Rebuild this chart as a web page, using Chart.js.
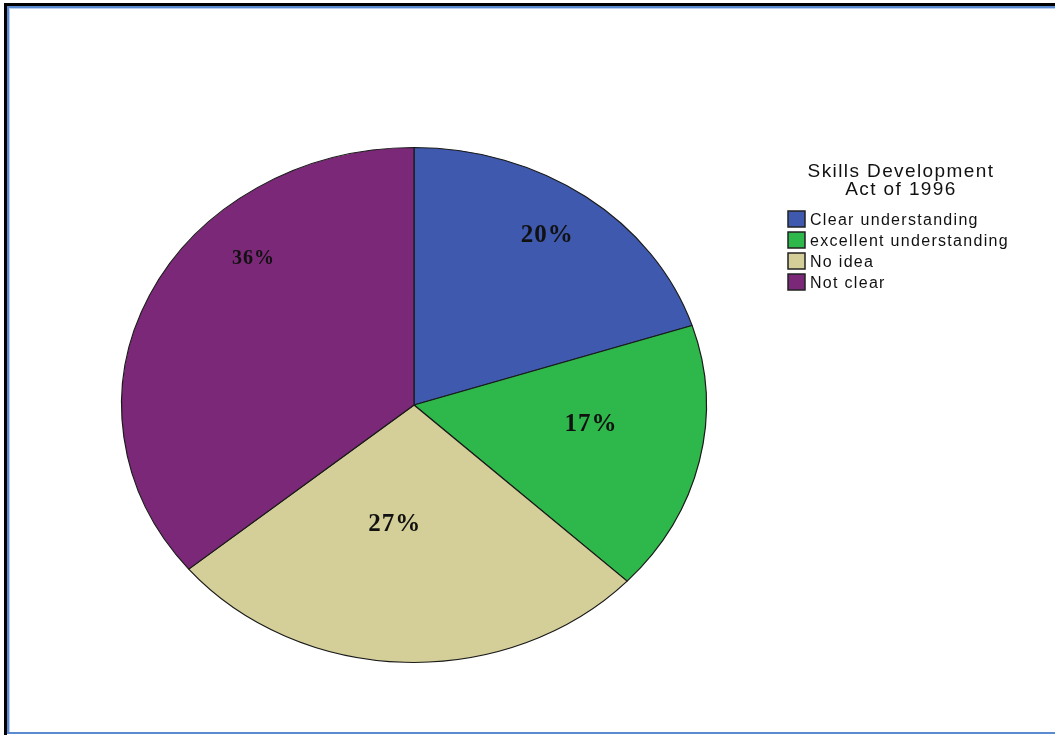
<!DOCTYPE html>
<html>
<head>
<meta charset="utf-8">
<script src="https://cdn.jsdelivr.net/npm/chart.js@4/dist/chart.umd.min.js"></script>
<style>
  html, body { margin: 0; padding: 0; background: #fff; }
  #wrap { position: relative; width: 1055px; height: 735px; overflow: hidden; }
  #chart { position: absolute; left: 0; top: 0; }
  /* window frame lines */
  .frame-outer { position: absolute; left: 4px; top: 3px; width: 1100px; height: 800px;
    border-left: 3px solid #000; border-top: 3px solid #000; }
  .frame-inner { position: absolute; left: 7px; top: 6px; width: 1100px; height: 724px;
    border: 2px solid #5a8ad0; border-right: none; box-shadow: inset 1px 1px 0 #b9d0f0; }
</style>
</head>
<body>
<div id="wrap">
  <canvas id="chart" width="1055" height="735"></canvas>
  <div class="frame-outer"></div>
  <div class="frame-inner"></div>
</div>
<script>
// 数据
const categories = ['Clear understanding', 'excellent understanding', 'No idea', 'Not clear'];
const percentages = [20, 17, 27, 36];
const sliceColors = ['#3e59ad', '#2eb74a', '#d4cf98', '#7b2878'];
const legendTitle = ['Skills Development', 'Act of 1996'];

// 椭圆的纵横比
const ELLIPSE_Y = 257.5 / 292.5;

// 标签位置微调 (半径比例, 角度偏移 deg, 字号)
const labelTweaks = [
  { f: 0.80, da: -1.3, size: 25 },
  { f: 0.61, da: -5.6, size: 25 },
  { f: 0.47, da: 6.2, size: 25 },
  { f: 0.79, da: 20.8, size: 20 }
];

// 把饼图压成椭圆
const ellipsePlugin = {
  id: 'ellipse',
  beforeDatasetsDraw(chart) {
    const arc = chart.getDatasetMeta(0).data[0];
    const ctx = chart.ctx;
    ctx.save();
    ctx.translate(arc.x, arc.y);
    ctx.scale(1, ELLIPSE_Y);
    ctx.translate(-arc.x, -arc.y);
  },
  afterDatasetsDraw(chart) {
    chart.ctx.restore();
  }
};

// 百分比标签
const sliceLabels = {
  id: 'sliceLabels',
  afterDraw(chart) {
    const ctx = chart.ctx;
    const meta = chart.getDatasetMeta(0);
    ctx.save();
    ctx.fillStyle = '#111';
    ctx.textAlign = 'center';
    ctx.textBaseline = 'middle';
    meta.data.forEach((arc, i) => {
      const t = labelTweaks[i];
      const mid = (arc.startAngle + arc.endAngle) / 2 + t.da * Math.PI / 180;
      const r = arc.outerRadius * t.f;
      const x = arc.x + r * Math.cos(mid);
      const y = arc.y + r * Math.sin(mid) * ELLIPSE_Y;
      ctx.font = `bold ${t.size}px "Liberation Serif", "Times New Roman", serif`;
      ctx.letterSpacing = '1px';
      ctx.fillText(percentages[i] + '%', x, y);
    });
    ctx.restore();
  }
};

// 右侧图例
const sideLegend = {
  id: 'sideLegend',
  afterDraw(chart) {
    const ctx = chart.ctx;
    ctx.save();
    ctx.fillStyle = '#111';
    ctx.textBaseline = 'alphabetic';
    ctx.textAlign = 'center';
    ctx.font = '19px "Liberation Sans", Arial, sans-serif';
    ctx.letterSpacing = '1.4px';
    legendTitle.forEach((line, i) => ctx.fillText(line, 901, 177 + i * 18));

    ctx.textAlign = 'left';
    ctx.font = '16px "Liberation Sans", Arial, sans-serif';
    ctx.letterSpacing = '1.3px';
    categories.forEach((label, i) => {
      const top = 211 + i * 21;
      ctx.fillStyle = sliceColors[i];
      ctx.fillRect(788, top, 17, 16);
      ctx.strokeStyle = '#222';
      ctx.lineWidth = 1.5;
      ctx.strokeRect(788, top, 17, 16);
      ctx.fillStyle = '#111';
      ctx.fillText(label, 810, top + 14);
    });
    ctx.restore();
  }
};

new Chart(document.getElementById('chart').getContext('2d'), {
  type: 'pie',
  data: {
    labels: categories,
    datasets: [{
      data: percentages,
      backgroundColor: sliceColors,
      borderColor: '#1a1a1a',
      borderWidth: 1.2
    }]
  },
  options: {
    responsive: false,
    animation: false,
    layout: { padding: { left: 121, top: 112, right: 348, bottom: 37 } },
    plugins: {
      legend: { display: false },
      tooltip: { enabled: false }
    }
  },
  plugins: [ellipsePlugin, sliceLabels, sideLegend]
});
</script>
</body>
</html>
